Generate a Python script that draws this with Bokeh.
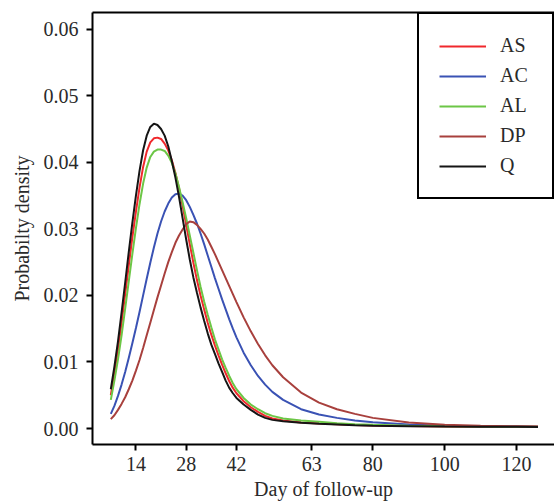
from bokeh.plotting import figure
from bokeh.models import FixedTicker, Range1d, LinearAxis, PrintfTickFormatter
from bokeh.embed import file_html
from bokeh.resources import INLINE

days = [7, 8, 9, 10, 11, 12, 13, 14, 15, 16, 17, 18, 19, 20, 21, 22, 23, 24, 25, 26,
        27, 28, 29, 30, 31, 32, 33, 34, 35, 36, 37, 38, 39, 40, 41, 42,
        44, 46, 48, 50, 52, 55, 60, 65, 70, 75, 80, 90, 100, 110, 120, 126]

as_vals = [0.0050, 0.0083, 0.0119, 0.0159, 0.0202, 0.0245, 0.0287, 0.0326, 0.0362, 0.0393,
           0.0416, 0.0430, 0.0436, 0.0437, 0.0435, 0.0428, 0.0418, 0.0403, 0.0384, 0.0361,
           0.0335, 0.0306, 0.0277, 0.0249, 0.0223, 0.0200, 0.0179, 0.0159, 0.0141, 0.0125,
           0.0110, 0.0096, 0.0083, 0.0071, 0.0061, 0.0053,
           0.0041, 0.0032, 0.0025, 0.0019, 0.0015, 0.0012, 0.0009, 0.00075, 0.00063, 0.00053,
           0.00045, 0.00037, 0.00032, 0.00028, 0.00026, 0.00025]

ac_vals = [0.0022, 0.0034, 0.0049, 0.0066, 0.0085, 0.0106, 0.0128, 0.0151, 0.0175, 0.0200,
           0.0225, 0.0249, 0.0272, 0.0293, 0.0311, 0.0326, 0.0338, 0.0347, 0.0352, 0.0353,
           0.0350, 0.0343, 0.0333, 0.0321, 0.0308, 0.0293, 0.0277, 0.0260, 0.0243, 0.0226,
           0.0210, 0.0194, 0.0179, 0.0164, 0.0150, 0.0137,
           0.0114, 0.0095, 0.0079, 0.0066, 0.0055, 0.0043, 0.0029, 0.0021, 0.0016, 0.0012,
           0.00095, 0.0006, 0.00042, 0.00034, 0.0003, 0.00028]

al_vals = [0.0043, 0.0072, 0.0104, 0.0140, 0.0180, 0.0221, 0.0262, 0.0301, 0.0337, 0.0368,
           0.0392, 0.0408, 0.0416, 0.0419, 0.0419, 0.0417, 0.0410, 0.0399, 0.0383, 0.0363,
           0.0340, 0.0316, 0.0290, 0.0264, 0.0238, 0.0213, 0.0191, 0.0171, 0.0152, 0.0134,
           0.0119, 0.0104, 0.0091, 0.0079, 0.0068, 0.0059,
           0.0046, 0.0036, 0.0029, 0.0023, 0.0019, 0.0015, 0.0012, 0.0010, 0.0008, 0.00065,
           0.00055, 0.00043, 0.00036, 0.0003, 0.00027, 0.00026]

dp_vals = [0.0014, 0.0020, 0.0028, 0.0037, 0.0047, 0.0059, 0.0072, 0.0087, 0.0103, 0.0121,
           0.0140, 0.0159, 0.0178, 0.0197, 0.0215, 0.0233, 0.0250, 0.0265, 0.0279, 0.0290,
           0.0299, 0.0307, 0.0311, 0.0310, 0.0306, 0.0300, 0.0293, 0.0284, 0.0273, 0.0262,
           0.0250, 0.0238, 0.0226, 0.0214, 0.0202, 0.0190,
           0.0167, 0.0146, 0.0127, 0.0110, 0.0095, 0.0077, 0.0054, 0.0039, 0.0029, 0.0022,
           0.0016, 0.0009, 0.00058, 0.00042, 0.00034, 0.0003]

q_vals = [0.0059, 0.0093, 0.0131, 0.0174, 0.0219, 0.0265, 0.0309, 0.0350, 0.0387, 0.0418,
          0.0440, 0.0453, 0.0458, 0.0456, 0.0450, 0.0440, 0.0424, 0.0402, 0.0377, 0.0348,
          0.0316, 0.0284, 0.0254, 0.0227, 0.0204, 0.0182, 0.0162, 0.0143, 0.0126, 0.0112,
          0.0098, 0.0085, 0.0072, 0.0061, 0.0053, 0.0046,
          0.0036, 0.0028, 0.0021, 0.0016, 0.0013, 0.0011, 0.00085, 0.0007, 0.0006, 0.0005,
          0.00042, 0.00035, 0.0003, 0.00027, 0.00025, 0.00024]

series_names = ["AS", "AC", "AL", "DP", "Q"]
series_vals = [as_vals, ac_vals, al_vals, dp_vals, q_vals]
series_colors = ["#F0282C", "#3A52B4", "#6CC646", "#A8403D", "#151515"]

x_ticks = [14, 28, 42, 63, 80, 100, 120]
y_ticks = [0.00, 0.01, 0.02, 0.03, 0.04, 0.05, 0.06]

FONT = "Liberation Serif"
TXT = "#2a2a2a"

p = figure(width=554, height=502, output_backend="svg", toolbar_location=None,
           x_range=Range1d(1.9, 130.6), y_range=Range1d(-0.0024, 0.0625),
           min_border_left=92, min_border_right=0, min_border_top=12, min_border_bottom=10)

p.outline_line_color = None
p.grid.visible = False
p.background_fill_color = "white"
p.border_fill_color = "white"

for name, vals, col in zip(series_names, series_vals, series_colors):
    p.line(days, vals, line_color=col, line_width=2, legend_label=name)

xa = p.below[0]
ya = p.left[0]

for ax in (xa, ya):
    ax.axis_line_width = 2
    ax.axis_line_color = "black"
    ax.major_tick_line_width = 2
    ax.major_tick_line_color = "black"
    ax.major_tick_out = 6
    ax.major_tick_in = 0
    ax.minor_tick_line_color = None
    ax.major_label_text_font = FONT
    ax.major_label_text_font_size = "20px"
    ax.major_label_text_color = TXT
    ax.axis_label_text_font = FONT
    ax.axis_label_text_font_size = "20px"
    ax.axis_label_text_font_style = "normal"
    ax.axis_label_text_color = TXT

xa.ticker = FixedTicker(ticks=x_ticks)
ya.ticker = FixedTicker(ticks=y_ticks)
ya.formatter = PrintfTickFormatter(format="%.2f")
xa.axis_label = "Day of follow-up"
ya.axis_label = "Probabilty density"
xa.major_label_standoff = 6
xa.axis_label_standoff = 4
ya.major_label_standoff = 8
ya.axis_label_standoff = 8

top_axis = LinearAxis(ticker=FixedTicker(ticks=[]), axis_line_width=2, axis_line_color="black",
                      major_tick_line_color=None, minor_tick_line_color=None,
                      major_label_text_font_size="1px", major_label_standoff=0)
p.add_layout(top_axis, "above")

lg = p.legend[0]
lg.location = "top_right"
lg.border_line_color = "black"
lg.border_line_alpha = 1.0
lg.border_line_width = 2
lg.background_fill_color = "white"
lg.background_fill_alpha = 1.0
lg.padding = 20
lg.margin = 0
lg.spacing = 7
lg.glyph_width = 47
lg.glyph_height = 20
lg.label_height = 20
lg.label_width = 32
lg.label_standoff = 14
lg.label_text_font = FONT
lg.label_text_font_size = "20px"
lg.label_text_color = TXT

open("out.html", "w").write(file_html(p, INLINE))
